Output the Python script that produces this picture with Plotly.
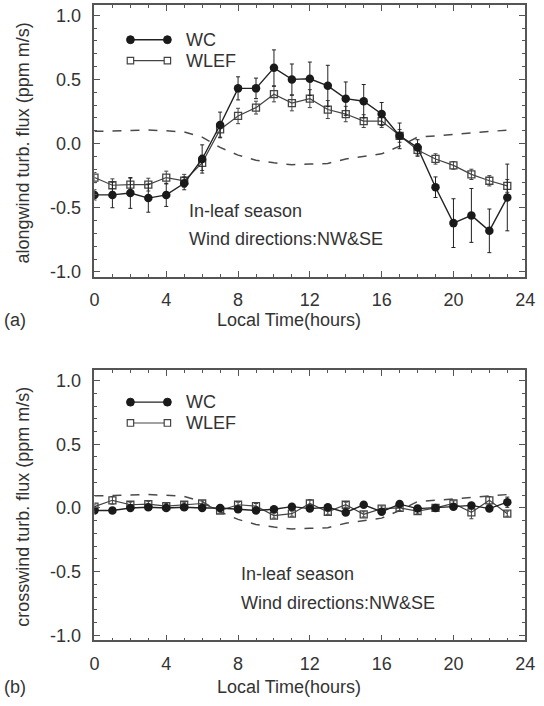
import plotly.graph_objects as go

W, H = 544, 706

hours = list(range(24))

# (a) alongwind turbulent flux (ppm m/s)
wc_along = [-0.40, -0.40, -0.385, -0.425, -0.40, -0.31, -0.12, 0.145, 0.43, 0.43, 0.59, 0.50,
            0.505, 0.45, 0.35, 0.33, 0.23, 0.06, -0.03, -0.34, -0.62, -0.56, -0.68, -0.42]
wc_along_err = [0.04, 0.10, 0.12, 0.11, 0.09, 0.05, 0.11, 0.10, 0.09, 0.08, 0.14, 0.12,
                0.13, 0.16, 0.13, 0.13, 0.09, 0.10, 0.06, 0.08, 0.19, 0.21, 0.17, 0.26]
wlef_along = [-0.265, -0.325, -0.32, -0.32, -0.265, -0.29, -0.15, 0.11, 0.215, 0.28, 0.385, 0.315,
              0.35, 0.265, 0.23, 0.175, 0.175, 0.06, -0.05, -0.12, -0.17, -0.24, -0.29, -0.33]
wlef_along_err = [0.04, 0.05, 0.05, 0.05, 0.05, 0.05, 0.06, 0.06, 0.06, 0.05, 0.06, 0.06,
                  0.07, 0.07, 0.06, 0.05, 0.05, 0.05, 0.05, 0.04, 0.03, 0.04, 0.04, 0.05]

# (b) crosswind turbulent flux (ppm m/s)
wc_cross = [-0.02, -0.02, 0.0, 0.005, 0.0, 0.005, 0.0, 0.0, -0.01, -0.02, -0.01, 0.01,
            -0.005, 0.005, -0.035, 0.025, -0.03, 0.03, -0.005, 0.0, 0.01, 0.02, -0.005, 0.045]
wc_cross_err = [0.02, 0.02, 0.02, 0.02, 0.02, 0.02, 0.02, 0.02, 0.02, 0.02, 0.02, 0.02,
                0.02, 0.02, 0.02, 0.02, 0.02, 0.02, 0.02, 0.02, 0.02, 0.02, 0.02, 0.04]
wlef_cross = [0.01, 0.06, 0.025, 0.03, 0.015, 0.025, 0.035, -0.02, 0.025, 0.015, -0.06, -0.045,
              0.035, -0.03, 0.025, -0.05, -0.005, 0.0, -0.025, 0.0, 0.035, -0.035, 0.06, -0.045]
wlef_cross_err = [0.02, 0.03, 0.02, 0.02, 0.02, 0.02, 0.02, 0.02, 0.02, 0.02, 0.02, 0.02,
                  0.03, 0.02, 0.02, 0.02, 0.02, 0.02, 0.02, 0.02, 0.02, 0.05, 0.03, 0.02]

# dashed reference curve
dashed_ref = [0.095, 0.10, 0.105, 0.105, 0.10, 0.09, 0.05, -0.03, -0.09, -0.13, -0.15, -0.165,
              -0.16, -0.155, -0.12, -0.10, -0.08, -0.02, 0.05, 0.06, 0.07, 0.085, 0.09, 0.105]

x_ticks = [0, 4, 8, 12, 16, 20, 24]
x_ticklabels = ["0", "4", "8", "12", "16", "20", "24"]
y_ticks = [-1.0, -0.5, 0.0, 0.5, 1.0]
y_ticklabels = ["-1.0", "-0.5", "0.0", "0.5", "1.0"]

FONT = "Liberation Sans, Arial, Helvetica, sans-serif"
TXT = "#333333"
AX = "#555555"
FS = 18


def px(x):
    return x / W


def py(y):
    return 1 - y / H


fig = go.Figure()


def add_panel(xa, ya, wc, wc_e, wl, wl_e):
    fig.add_trace(go.Scatter(x=hours, y=dashed_ref, mode="lines", xaxis=xa, yaxis=ya,
                             line=dict(color="#4a4a4a", width=1.5, dash="dash"),
                             showlegend=False, hoverinfo="skip"))
    fig.add_trace(go.Scatter(x=hours, y=wl, mode="lines+markers", xaxis=xa, yaxis=ya,
                             line=dict(color="#444444", width=1.2),
                             marker=dict(symbol="square-open", size=7, color="#444444",
                                         line=dict(width=1.3, color="#444444")),
                             error_y=dict(type="data", array=wl_e, visible=True,
                                          color="#444444", thickness=1, width=2),
                             showlegend=False))
    fig.add_trace(go.Scatter(x=hours, y=wc, mode="lines+markers", xaxis=xa, yaxis=ya,
                             line=dict(color="#222222", width=1.4),
                             marker=dict(symbol="circle", size=8.5, color="#1a1a1a"),
                             error_y=dict(type="data", array=wc_e, visible=True,
                                          color="#222222", thickness=1, width=2),
                             showlegend=False))


add_panel("x", "y", wc_along, wc_along_err, wlef_along, wlef_along_err)
add_panel("x2", "y2", wc_cross, wc_cross_err, wlef_cross, wlef_cross_err)

xdom = [px(92), px(535)]
top_dom = [py(279), py(5)]
bot_dom = [py(645), py(373)]

xcommon = dict(range=[0, 24], tickvals=x_ticks, ticktext=x_ticklabels,
               ticks="inside", ticklen=6, tickwidth=1.2, tickcolor=AX,
               minor=dict(dtick=1, ticks="inside", ticklen=3, tickwidth=1, tickcolor=AX),
               showline=True, linecolor=AX, linewidth=1.5, mirror="allticks",
               showgrid=False, zeroline=False, domain=xdom, ticklabeloverflow="allow",
               tickfont=dict(family=FONT, size=FS, color=TXT), ticklabelstandoff=6)
ycommon = dict(range=[-1.04, 1.08], tickvals=y_ticks, ticktext=y_ticklabels,
               ticks="inside", ticklen=6, tickwidth=1.2, tickcolor=AX,
               minor=dict(dtick=0.1, tick0=0, ticks="inside", ticklen=3, tickwidth=1, tickcolor=AX),
               showline=True, linecolor=AX, linewidth=1.5, mirror="allticks",
               showgrid=False, zeroline=False, ticklabeloverflow="allow",
               tickfont=dict(family=FONT, size=FS, color=TXT), ticklabelstandoff=8)

fig.update_layout(
    width=W, height=H, autosize=False,
    margin=dict(l=0, r=0, t=0, b=0),
    paper_bgcolor="white", plot_bgcolor="white",
    showlegend=False,
    xaxis=dict(**xcommon, anchor="y"),
    yaxis=dict(**ycommon, domain=top_dom, anchor="x"),
    xaxis2=dict(**xcommon, anchor="y2"),
    yaxis2=dict(**ycommon, domain=bot_dom, anchor="x2"),
)

annotations = []
shapes = []


def text(x, y, s, size=FS, angle=0, xanchor="center"):
    annotations.append(dict(x=px(x), y=py(y), xref="paper", yref="paper", text=s,
                            showarrow=False, textangle=angle, xanchor=xanchor, yanchor="middle",
                            font=dict(family=FONT, size=size, color=TXT)))


# axis titles and panel labels
text(19, 144, "alongwind turb. flux (ppm m/s)", FS, -90)
text(19, 510, "crosswind turb. flux (ppm m/s)", FS, -90)
text(292, 322, "Local Time(hours)", FS)
text(292, 692, "Local Time(hours)", FS)
text(10, 322, "(a)", FS)
text(10, 692, "(b)", FS)

# in-plot notes
text(187, 213, "In-leaf season", FS, xanchor="left")
text(187, 241, "Wind directions:NW&SE", FS, xanchor="left")
text(241, 578, "In-leaf season", FS, xanchor="left")
text(241, 607, "Wind directions:NW&SE", FS, xanchor="left")


# legends
def legend(y_wc, y_wl):
    x0, x1 = 129, 167
    shapes.append(dict(type="line", xref="paper", yref="paper", x0=px(x0), x1=px(x1),
                       y0=py(y_wc), y1=py(y_wc), line=dict(color="#222222", width=1.4)))
    for xc in (x0, x1):
        r = 4
        shapes.append(dict(type="circle", xref="paper", yref="paper",
                           x0=px(xc - r), x1=px(xc + r), y0=py(y_wc + r), y1=py(y_wc - r),
                           fillcolor="#1a1a1a", line=dict(color="#1a1a1a", width=1)))
    shapes.append(dict(type="line", xref="paper", yref="paper", x0=px(x0), x1=px(x1),
                       y0=py(y_wl), y1=py(y_wl), line=dict(color="#444444", width=1.2)))
    for xc in (x0, x1):
        r = 3.3
        shapes.append(dict(type="rect", xref="paper", yref="paper",
                           x0=px(xc - r), x1=px(xc + r), y0=py(y_wl + r), y1=py(y_wl - r),
                           fillcolor="white", line=dict(color="#444444", width=1.2)))
    text(184, y_wc, "WC", FS, xanchor="left")
    text(184, y_wl, "WLEF", FS, xanchor="left")


legend(40, 61)
legend(405, 426)

fig.update_layout(annotations=annotations, shapes=shapes)
fig.write_html("out.html")
